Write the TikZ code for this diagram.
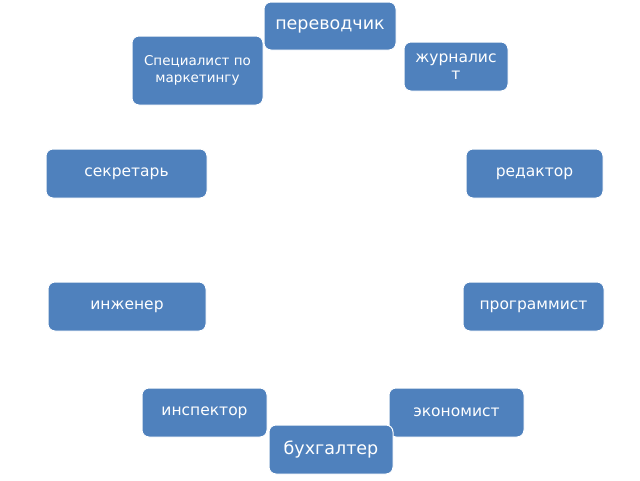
\documentclass[tikz,border=0pt]{standalone}
\usepackage{fontspec}
\setmainfont{DejaVu Sans}
\definecolor{boxblue}{HTML}{4F81BD}
\tikzset{
  rolebox/.style={draw=white, line width=1pt, fill=boxblue, rounded corners=7pt,
    text=white, align=center, inner sep=2pt, font=\fontsize{15.5}{17}\selectfont},
  bigbox/.style={rolebox, font=\fontsize{17.5}{19}\selectfont},
  smallbox/.style={rolebox, font=\fontsize{13.5}{17}\selectfont},
}
\begin{document}
\begin{tikzpicture}[x=1pt,y=-1pt]
\useasboundingbox (0,0) rectangle (640,480);
% box: center, width, height
\node[bigbox, minimum width=132pt, minimum height=48pt] (perevod) at (330,26) {переводчик};
\node[smallbox, minimum width=131pt, minimum height=69pt] (spec) at (197.5,70.5) {Специалист по\\маркетингу};
\node[rolebox, minimum width=104pt, minimum height=49pt, text width=96pt] (zhurn) at (456,66.5) {журналис\\т};
\node[rolebox, minimum width=161pt, minimum height=49pt] (sekr) at (126.5,173.5) {секретарь};
\node[rolebox, minimum width=137pt, minimum height=49pt] (red) at (534.5,173.5) {редактор};
\node[rolebox, minimum width=158pt, minimum height=49pt] (inzh) at (127,306.5) {инженер};
\node[rolebox, minimum width=141pt, minimum height=49pt] (progr) at (533.5,306.5) {программист};
\node[rolebox, minimum width=125pt, minimum height=49pt] (insp) at (204.5,412.5) {инспектор};
\node[rolebox, minimum width=135pt, minimum height=49pt] (ekon) at (456.5,412.5) {экономист};
\node[bigbox, minimum width=124pt, minimum height=49pt] (buh) at (331,449.5) {бухгалтер};
\end{tikzpicture}
\end{document}
